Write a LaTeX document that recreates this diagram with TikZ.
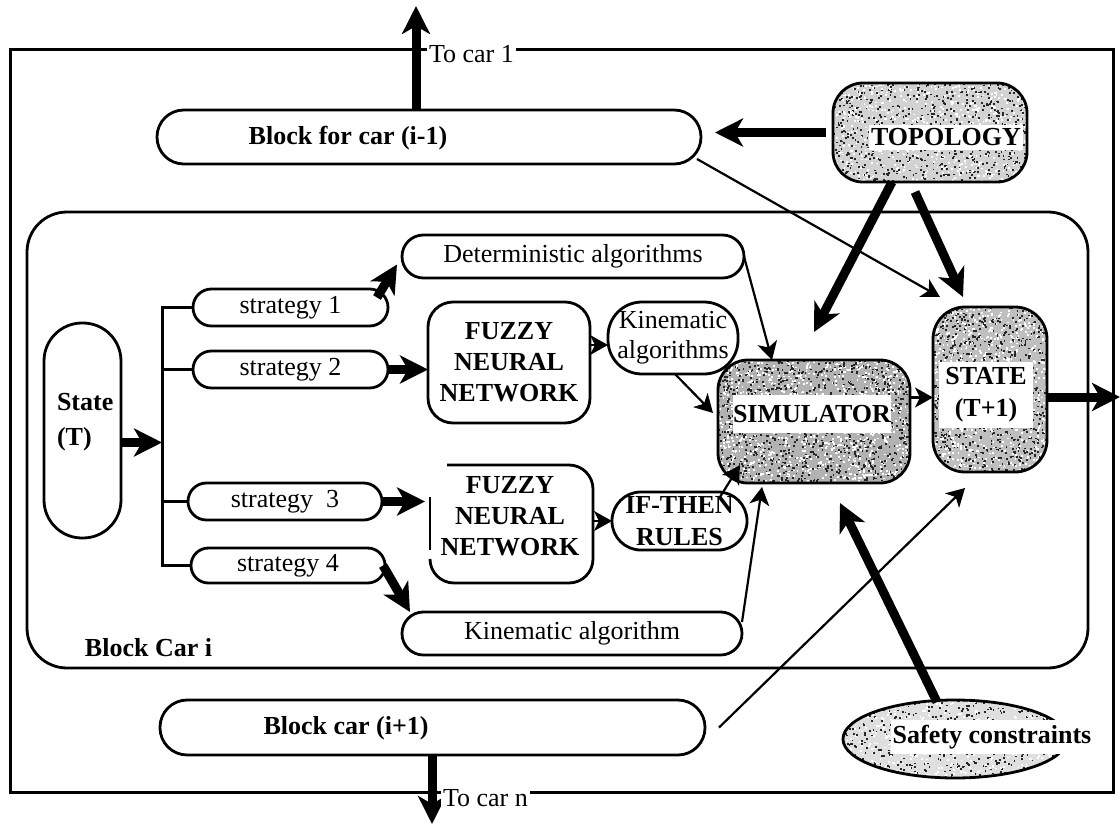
\documentclass[tikz,border=0pt]{standalone}
\usepackage{fontspec}
\setmainfont{Liberation Serif}
\usetikzlibrary{arrows.meta,shapes.geometric}
\begin{document}
\begin{tikzpicture}[x=0.5pt,y=-0.5pt,
  every node/.style={inner sep=0pt,outer sep=0pt},
  txt/.style={font=\fontsize{13}{15.5}\selectfont},
  btxt/.style={font=\fontsize{13}{15.5}\selectfont\bfseries},
  frame/.style={line width=1.5pt},
  pill/.style n args={3}{draw,line width=1.4pt,minimum width=#1,minimum height=#2,rounded corners=#3},
  spots/.style n args={3}{path picture={
    \foreach \k in {1,...,#3}{
      \fill[black!85,sharp corners] ([shift={({rnd*#1},{rnd*#2})}]path picture bounding box.south west) rectangle +(0.9pt,0.9pt);
      \fill[white,sharp corners] ([shift={({rnd*#1},{rnd*#2})}]path picture bounding box.south west) rectangle +(0.9pt,0.9pt);
    }}},
  branch/.style={line width=1.5pt},
  thinarr/.style={line width=1.1pt,-{Stealth[length=9pt,width=10pt,inset=2.5pt]}},
  thickarr/.style={line width=4.5pt,-{Stealth[length=14pt,width=14pt,inset=4pt]}}
]
\pgfmathsetseed{42}
\useasboundingbox (0,0) rectangle (1120,825);

% outer frame
\coordinate (fnw) at (10,49);
\coordinate (fse) at (1113,792);
\draw[frame] (fnw) rectangle (fse);

% block of car i
\node[pill={530.5pt}{228pt}{20pt}] (blocki) at (557.5,440) {};
\node[btxt] (blockilab) at (148.5,648) {Block Car i};

% neighbouring blocks
\node[pill={272pt}{27pt}{13.4pt}] (blockprev) at (429,137) {};
\node[btxt] (blockprevlab) at (348,138) {Block for car (i-1)};
\node[pill={272.5pt}{27.5pt}{13.6pt}] (blocknext) at (432.5,727.5) {};
\node[btxt] (blocknextlab) at (346,728) {Block car (i+1)};

% topology
\node[pill={97pt}{49.5pt}{15pt},fill=gray!35,spots={97pt}{49.5pt}{700}] (topo) at (930,132.5) {};
\node[btxt,fill=white,inner xsep=1pt,inner ysep=2pt] (topolab) at (946,137.5) {TOPOLOGY};

% current and next state
\node[pill={38.5pt}{107.5pt}{19pt}] (stateT) at (82.5,430.5) {};
\node[anchor=west,align=left,font=\fontsize{13}{17.5}\selectfont\bfseries] (stateTlab) at (57,422) {State\\(T)};
\node[pill={57pt}{82.5pt}{16pt},fill=gray!50,spots={57pt}{82.5pt}{800}] (stateN) at (990,389.5) {};
\node[fill=white,minimum width=47pt,minimum height=33pt,align=center,font=\fontsize{13}{16}\selectfont\bfseries] (stateNlab) at (986,395) {STATE\\(T+1)};

% strategies
\node[pill={97.5pt}{18.5pt}{9.2pt},txt] (s1) at (290.5,307.5) {strategy 1};
\node[pill={97.5pt}{18.5pt}{9.2pt},txt] (s2) at (290.5,369.5) {strategy 2};
\node[pill={97pt}{18.5pt}{9.2pt},txt] (s3) at (285,501.5) {strategy\ \ 3};
\node[pill={97pt}{17.5pt}{8.7pt},txt] (s4) at (288,565.5) {strategy 4};

% algorithm blocks
\node[pill={171pt}{21.5pt}{10.7pt},txt] (det) at (573,256.5) {Deterministic algorithms};
\node[pill={170pt}{21.5pt}{10.7pt},txt] (kin2) at (572,633.5) {Kinematic algorithm};
\node[pill={81pt}{60.5pt}{12.5pt},btxt,align=center] (fnn1) at (509,362.5) {FUZZY\\NEURAL\\NETWORK};
\node[pill={65pt}{36pt}{17pt},align=center,font=\fontsize{13}{15}\selectfont] (kin1) at (673,338) {Kinematic\\algorithms};
\node[minimum width=81.5pt,minimum height=59pt] (fnn2) at (511.5,524) {};
\draw[line width=1.4pt,rounded corners=12pt] ([xshift=8.5pt]fnn2.north west) -- (fnn2.north east) -- (fnn2.south east) -- (fnn2.south west) -- ([yshift=12pt]fnn2.south west);
\draw[line width=1.4pt] ([yshift=-16pt]fnn2.north west) -- ([yshift=16.5pt]fnn2.south west);
\node[btxt,align=center] (fnn2lab) at (510,516) {FUZZY\\NEURAL\\NETWORK};
\node[pill={67.5pt}{29pt}{14.4pt},align=center,font=\fontsize{13}{16}\selectfont\bfseries] (ifthen) at (679.5,521) {IF-THEN\\RULES};

% simulator
\node[pill={96pt}{61.5pt}{15pt},fill=gray!60,spots={96pt}{61.5pt}{1100}] (sim) at (814,421.5) {};
\node[btxt,fill=white,minimum width=78.5pt,minimum height=19pt] (simlab) at (812,414) {SIMULATOR};

% safety constraints
\node[ellipse,draw,line width=1.4pt,minimum width=112pt,minimum height=39pt,fill=gray!25,spots={112pt}{39pt}{500}] (safety) at (955,739) {};
\node[btxt,fill=white,inner xsep=1pt,inner ysep=2.5pt] (safetylab) at (992,737) {Safety constraints};

% links to the other cars
\coordinate (upend) at (416,6);
\draw[thickarr] (blockprev.north -| upend) -- (upend);
\node[txt,fill=white,anchor=base west,inner xsep=1pt] (tocar1) at (427,62) {To car 1};
\coordinate (downend) at (432,824);
\draw[thickarr] (blocknext.south -| downend) -- (downend);
\node[txt,fill=white,anchor=base west,inner xsep=1pt] (tocarn) at (441,806) {To car n};

% branching of the strategies
\coordinate (brtop) at (162,307.5);
\draw[branch] (s1.west) -- (s1.west -| brtop) -- (s4.west -| brtop) -- (s4.west);
\draw[branch] (s2.west) -- (s2.west -| brtop);
\draw[branch] (s3.west) -- (s3.west -| brtop);
\coordinate (stout) at ([yshift=-6pt]stateT.east);
\draw[thickarr] (stout) -- (stout -| brtop);

% strategies to algorithms
\draw[thickarr] ([xshift=-5.5pt,yshift=5pt]s1.east) -- ([xshift=-2.5pt,yshift=-4pt]det.west);
\draw[thickarr] (s2.east) -- (s2.east -| fnn1.west);
\draw[thickarr,shorten >=2.5pt] (s3.east) -- (s3.east -| fnn2.west);
\draw[thickarr] ([xshift=-1pt]s4.east) -- ([xshift=4pt,yshift=10.75pt]kin2.west);

% algorithms to simulator
\coordinate (k1in) at ([yshift=-3.5pt]kin1.west);
\draw[thinarr] (k1in -| fnn1.east) -- (k1in);
\draw[thinarr] (ifthen.west -| fnn2.east) -- (ifthen.west);
\draw[thinarr] (det.east) -- ([xshift=27pt]sim.north west);
\draw[thinarr] ([xshift=1pt]kin1.south) -- ([xshift=-2.5pt,yshift=4.25pt]sim.west);
\draw[thinarr] ([xshift=-13.5pt,yshift=-2.5pt]ifthen.north east) -- ([xshift=11pt,yshift=9pt]sim.south west);
\draw[thinarr] ([yshift=5.75pt]kin2.east) -- ([xshift=22pt,yshift=-2pt]sim.south west);

% simulator to next state and out
\coordinate (simout) at ([yshift=12pt]sim.east);
\draw[thinarr] (simout) -- (simout -| stateN.west);
\coordinate (outend) at (1120,397);
\draw[thickarr] ([yshift=-3.75pt]stateN.east) -- (outend);

% topology and neighbours
\draw[thickarr,shorten <=3.5pt,shorten >=7pt] (topo.west) -- (topo.west -| blockprev.east);
\draw[thickarr] ([xshift=-19pt]topo.south) -- ([yshift=14pt]sim.north);
\draw[thickarr] ([xshift=-7.5pt,yshift=-5pt]topo.south) -- ([xshift=-13.5pt,yshift=5pt]stateN.north);
\draw[thinarr] ([xshift=-2pt,yshift=-11pt]blockprev.east) -- ([xshift=3.5pt,yshift=5pt]stateN.north west);
\draw[thinarr] ([xshift=7pt]blocknext.east) -- ([xshift=-12.5pt,yshift=-8pt]stateN.south);

% safety constraints to simulator
\draw[thickarr] ([xshift=-9pt,yshift=-1pt]safety.north) -- ([xshift=13pt,yshift=-10pt]sim.south);
\end{tikzpicture}
\end{document}
